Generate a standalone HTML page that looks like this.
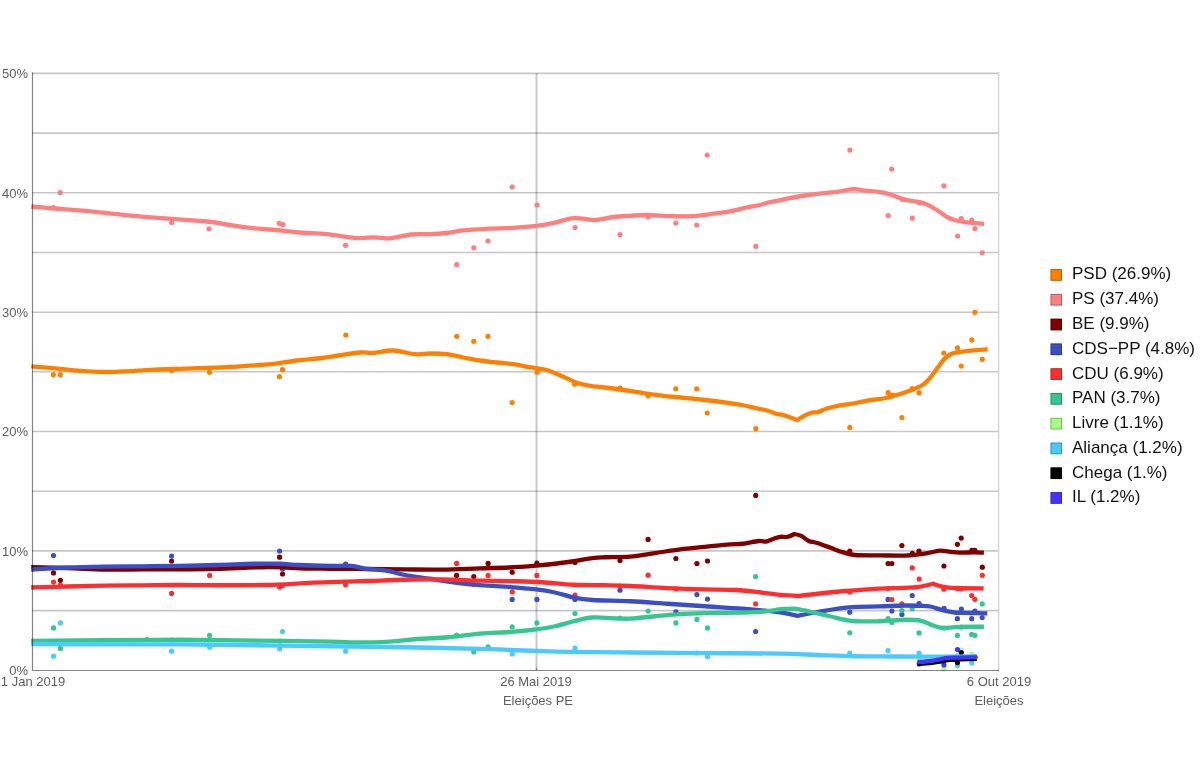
<!DOCTYPE html>
<html><head><meta charset="utf-8"><style>
html,body{margin:0;padding:0;background:#fff;}
body{width:1200px;height:775px;position:relative;overflow:hidden;font-family:"Liberation Sans",sans-serif;}
#w{position:absolute;left:0;top:0;width:1200px;height:775px;}
.t{position:absolute;left:0;top:0;width:1200px;height:775px;will-change:transform;}
svg{position:absolute;left:0;top:0;}
.yl{position:absolute;left:0;width:28px;text-align:right;font-size:13px;color:#5e5e5e;line-height:16px;}
.xl{position:absolute;font-size:13px;color:#5e5e5e;line-height:16px;white-space:nowrap;text-align:center;}
.lg{position:absolute;left:1050px;height:13px;white-space:nowrap;}
.sq{position:absolute;left:0;top:0;width:12px;height:12px;box-sizing:border-box;border:1px solid rgba(0,0,0,0.3);background-clip:padding-box;}
.lt{position:absolute;left:22px;top:-4.6px;font-size:17px;line-height:20px;color:#111;}
</style></head><body>
<div id="w">
<svg width="1200" height="775" viewBox="0 0 1200 775">
<line x1="32" x2="999.2" y1="610.6" y2="610.6" stroke="#000" stroke-opacity="0.225" stroke-width="1.6"/>
<line x1="32" x2="999.2" y1="550.9" y2="550.9" stroke="#000" stroke-opacity="0.225" stroke-width="1.6"/>
<line x1="32" x2="999.2" y1="491.2" y2="491.2" stroke="#000" stroke-opacity="0.225" stroke-width="1.6"/>
<line x1="32" x2="999.2" y1="431.5" y2="431.5" stroke="#000" stroke-opacity="0.225" stroke-width="1.6"/>
<line x1="32" x2="999.2" y1="371.8" y2="371.8" stroke="#000" stroke-opacity="0.225" stroke-width="1.6"/>
<line x1="32" x2="999.2" y1="312.2" y2="312.2" stroke="#000" stroke-opacity="0.225" stroke-width="1.6"/>
<line x1="32" x2="999.2" y1="252.5" y2="252.5" stroke="#000" stroke-opacity="0.225" stroke-width="1.6"/>
<line x1="32" x2="999.2" y1="192.8" y2="192.8" stroke="#000" stroke-opacity="0.225" stroke-width="1.6"/>
<line x1="32" x2="999.2" y1="133.1" y2="133.1" stroke="#000" stroke-opacity="0.225" stroke-width="1.6"/>
<line x1="32" x2="999.2" y1="73.4" y2="73.4" stroke="#000" stroke-opacity="0.225" stroke-width="1.6"/>
<line x1="998.6" x2="998.6" y1="72.6" y2="671" stroke="#d2d2d2" stroke-width="1.3"/>
<line x1="536.5" x2="536.5" y1="73" y2="671" stroke="#000" stroke-opacity="0.215" stroke-width="2"/>
<circle cx="53.3" cy="374.7" r="2.6" fill="#ff8000"/>
<circle cx="60.3" cy="374.7" r="2.6" fill="#ff8000"/>
<circle cx="171.7" cy="370.5" r="2.6" fill="#ff8000"/>
<circle cx="209.5" cy="372.2" r="2.6" fill="#ff8000"/>
<circle cx="282.5" cy="369.7" r="2.6" fill="#ff8000"/>
<circle cx="279.5" cy="376.7" r="2.6" fill="#ff8000"/>
<circle cx="345.8" cy="335.0" r="2.6" fill="#ff8000"/>
<circle cx="456.7" cy="336.3" r="2.6" fill="#ff8000"/>
<circle cx="473.8" cy="341.3" r="2.6" fill="#ff8000"/>
<circle cx="488.0" cy="336.3" r="2.6" fill="#ff8000"/>
<circle cx="512.2" cy="402.5" r="2.6" fill="#ff8000"/>
<circle cx="537.0" cy="372.2" r="2.6" fill="#ff8000"/>
<circle cx="574.7" cy="384.2" r="2.6" fill="#ff8000"/>
<circle cx="620.0" cy="388.0" r="2.6" fill="#ff8000"/>
<circle cx="648.0" cy="395.8" r="2.6" fill="#ff8000"/>
<circle cx="675.8" cy="388.8" r="2.6" fill="#ff8000"/>
<circle cx="696.7" cy="388.8" r="2.6" fill="#ff8000"/>
<circle cx="707.2" cy="413.0" r="2.6" fill="#ff8000"/>
<circle cx="755.8" cy="428.7" r="2.6" fill="#ff8000"/>
<circle cx="849.8" cy="427.4" r="2.6" fill="#ff8000"/>
<circle cx="888.1" cy="392.7" r="2.6" fill="#ff8000"/>
<circle cx="892.3" cy="395.2" r="2.6" fill="#ff8000"/>
<circle cx="901.9" cy="417.5" r="2.6" fill="#ff8000"/>
<circle cx="912.2" cy="388.6" r="2.6" fill="#ff8000"/>
<circle cx="919.0" cy="392.7" r="2.6" fill="#ff8000"/>
<circle cx="943.8" cy="353.0" r="2.6" fill="#ff8000"/>
<circle cx="957.5" cy="347.9" r="2.6" fill="#ff8000"/>
<circle cx="961.2" cy="366.0" r="2.6" fill="#ff8000"/>
<circle cx="971.8" cy="339.9" r="2.6" fill="#ff8000"/>
<circle cx="974.9" cy="312.3" r="2.6" fill="#ff8000"/>
<circle cx="982.3" cy="359.3" r="2.6" fill="#ff8000"/>
<circle cx="53.5" cy="207.5" r="2.6" fill="#ff7f7f"/>
<circle cx="60.2" cy="192.5" r="2.6" fill="#ff7f7f"/>
<circle cx="171.7" cy="222.5" r="2.6" fill="#ff7f7f"/>
<circle cx="209.0" cy="228.8" r="2.6" fill="#ff7f7f"/>
<circle cx="279.2" cy="223.3" r="2.6" fill="#ff7f7f"/>
<circle cx="283.0" cy="224.7" r="2.6" fill="#ff7f7f"/>
<circle cx="345.5" cy="245.3" r="2.6" fill="#ff7f7f"/>
<circle cx="456.7" cy="264.5" r="2.6" fill="#ff7f7f"/>
<circle cx="473.8" cy="247.8" r="2.6" fill="#ff7f7f"/>
<circle cx="488.0" cy="241.0" r="2.6" fill="#ff7f7f"/>
<circle cx="512.2" cy="187.0" r="2.6" fill="#ff7f7f"/>
<circle cx="537.0" cy="205.0" r="2.6" fill="#ff7f7f"/>
<circle cx="575.0" cy="227.5" r="2.6" fill="#ff7f7f"/>
<circle cx="620.0" cy="234.7" r="2.6" fill="#ff7f7f"/>
<circle cx="648.0" cy="217.0" r="2.6" fill="#ff7f7f"/>
<circle cx="675.8" cy="223.0" r="2.6" fill="#ff7f7f"/>
<circle cx="696.7" cy="225.0" r="2.6" fill="#ff7f7f"/>
<circle cx="707.2" cy="155.0" r="2.6" fill="#ff7f7f"/>
<circle cx="755.8" cy="246.3" r="2.6" fill="#ff7f7f"/>
<circle cx="849.9" cy="150.1" r="2.6" fill="#ff7f7f"/>
<circle cx="891.7" cy="169.1" r="2.6" fill="#ff7f7f"/>
<circle cx="943.9" cy="185.8" r="2.6" fill="#ff7f7f"/>
<circle cx="888.2" cy="215.6" r="2.6" fill="#ff7f7f"/>
<circle cx="912.3" cy="218.2" r="2.6" fill="#ff7f7f"/>
<circle cx="902.1" cy="199.3" r="2.6" fill="#ff7f7f"/>
<circle cx="919.1" cy="202.7" r="2.6" fill="#ff7f7f"/>
<circle cx="961.2" cy="218.5" r="2.6" fill="#ff7f7f"/>
<circle cx="971.8" cy="220.0" r="2.6" fill="#ff7f7f"/>
<circle cx="974.9" cy="228.6" r="2.6" fill="#ff7f7f"/>
<circle cx="957.6" cy="236.0" r="2.6" fill="#ff7f7f"/>
<circle cx="982.2" cy="252.8" r="2.6" fill="#ff7f7f"/>
<circle cx="53.5" cy="572.9" r="2.6" fill="#800000"/>
<circle cx="60.4" cy="580.3" r="2.6" fill="#800000"/>
<circle cx="171.6" cy="561.0" r="2.6" fill="#800000"/>
<circle cx="279.6" cy="557.2" r="2.6" fill="#800000"/>
<circle cx="282.5" cy="574.0" r="2.6" fill="#800000"/>
<circle cx="456.6" cy="575.4" r="2.6" fill="#800000"/>
<circle cx="473.8" cy="576.5" r="2.6" fill="#800000"/>
<circle cx="488.1" cy="563.4" r="2.6" fill="#800000"/>
<circle cx="512.2" cy="572.2" r="2.6" fill="#800000"/>
<circle cx="536.9" cy="563.1" r="2.6" fill="#800000"/>
<circle cx="575.0" cy="562.5" r="2.6" fill="#800000"/>
<circle cx="620.0" cy="560.6" r="2.6" fill="#800000"/>
<circle cx="648.1" cy="539.4" r="2.6" fill="#800000"/>
<circle cx="675.9" cy="558.5" r="2.6" fill="#800000"/>
<circle cx="696.9" cy="563.5" r="2.6" fill="#800000"/>
<circle cx="707.5" cy="561.0" r="2.6" fill="#800000"/>
<circle cx="755.7" cy="495.4" r="2.6" fill="#800000"/>
<circle cx="849.8" cy="551.0" r="2.6" fill="#800000"/>
<circle cx="901.9" cy="545.5" r="2.6" fill="#800000"/>
<circle cx="912.3" cy="553.3" r="2.6" fill="#800000"/>
<circle cx="919.0" cy="551.0" r="2.6" fill="#800000"/>
<circle cx="888.1" cy="563.5" r="2.6" fill="#800000"/>
<circle cx="891.9" cy="563.5" r="2.6" fill="#800000"/>
<circle cx="943.9" cy="566.0" r="2.6" fill="#800000"/>
<circle cx="957.4" cy="544.3" r="2.6" fill="#800000"/>
<circle cx="961.2" cy="538.1" r="2.6" fill="#800000"/>
<circle cx="971.9" cy="550.3" r="2.6" fill="#800000"/>
<circle cx="974.9" cy="550.3" r="2.6" fill="#800000"/>
<circle cx="982.3" cy="567.2" r="2.6" fill="#800000"/>
<circle cx="53.5" cy="555.6" r="2.6" fill="#3a4fc4"/>
<circle cx="171.6" cy="556.0" r="2.6" fill="#3a4fc4"/>
<circle cx="279.6" cy="551.0" r="2.6" fill="#3a4fc4"/>
<circle cx="282.5" cy="569.1" r="2.6" fill="#3a4fc4"/>
<circle cx="345.6" cy="564.1" r="2.6" fill="#3a4fc4"/>
<circle cx="512.2" cy="599.4" r="2.6" fill="#3a4fc4"/>
<circle cx="536.9" cy="599.4" r="2.6" fill="#3a4fc4"/>
<circle cx="575.0" cy="599.4" r="2.6" fill="#3a4fc4"/>
<circle cx="620.0" cy="590.2" r="2.6" fill="#3a4fc4"/>
<circle cx="696.9" cy="594.6" r="2.6" fill="#3a4fc4"/>
<circle cx="707.5" cy="599.1" r="2.6" fill="#3a4fc4"/>
<circle cx="675.9" cy="611.9" r="2.6" fill="#3a4fc4"/>
<circle cx="755.6" cy="631.5" r="2.6" fill="#3a4fc4"/>
<circle cx="849.8" cy="612.2" r="2.6" fill="#3a4fc4"/>
<circle cx="888.1" cy="599.4" r="2.6" fill="#3a4fc4"/>
<circle cx="891.9" cy="611.0" r="2.6" fill="#3a4fc4"/>
<circle cx="901.9" cy="614.4" r="2.6" fill="#3a4fc4"/>
<circle cx="912.2" cy="595.6" r="2.6" fill="#3a4fc4"/>
<circle cx="919.1" cy="603.6" r="2.6" fill="#3a4fc4"/>
<circle cx="944.1" cy="608.4" r="2.6" fill="#3a4fc4"/>
<circle cx="961.4" cy="609.1" r="2.6" fill="#3a4fc4"/>
<circle cx="974.9" cy="611.0" r="2.6" fill="#3a4fc4"/>
<circle cx="957.4" cy="618.7" r="2.6" fill="#3a4fc4"/>
<circle cx="971.7" cy="618.7" r="2.6" fill="#3a4fc4"/>
<circle cx="982.2" cy="617.6" r="2.6" fill="#3a4fc4"/>
<circle cx="53.5" cy="582.1" r="2.6" fill="#ff2e2e"/>
<circle cx="60.4" cy="585.0" r="2.6" fill="#ff2e2e"/>
<circle cx="171.6" cy="593.4" r="2.6" fill="#ff2e2e"/>
<circle cx="209.6" cy="575.4" r="2.6" fill="#ff2e2e"/>
<circle cx="279.6" cy="586.9" r="2.6" fill="#ff2e2e"/>
<circle cx="282.5" cy="585.5" r="2.6" fill="#ff2e2e"/>
<circle cx="345.6" cy="584.8" r="2.6" fill="#ff2e2e"/>
<circle cx="456.6" cy="563.4" r="2.6" fill="#ff2e2e"/>
<circle cx="473.8" cy="584.5" r="2.6" fill="#ff2e2e"/>
<circle cx="488.1" cy="575.4" r="2.6" fill="#ff2e2e"/>
<circle cx="512.2" cy="591.9" r="2.6" fill="#ff2e2e"/>
<circle cx="536.9" cy="575.4" r="2.6" fill="#ff2e2e"/>
<circle cx="575.0" cy="595.0" r="2.6" fill="#ff2e2e"/>
<circle cx="620.0" cy="586.0" r="2.6" fill="#ff2e2e"/>
<circle cx="648.1" cy="575.2" r="2.6" fill="#ff2e2e"/>
<circle cx="675.9" cy="589.0" r="2.6" fill="#ff2e2e"/>
<circle cx="755.6" cy="603.8" r="2.6" fill="#ff2e2e"/>
<circle cx="849.8" cy="591.9" r="2.6" fill="#ff2e2e"/>
<circle cx="888.1" cy="588.5" r="2.6" fill="#ff2e2e"/>
<circle cx="891.9" cy="599.6" r="2.6" fill="#ff2e2e"/>
<circle cx="901.9" cy="603.8" r="2.6" fill="#ff2e2e"/>
<circle cx="912.2" cy="567.9" r="2.6" fill="#ff2e2e"/>
<circle cx="919.1" cy="579.1" r="2.6" fill="#ff2e2e"/>
<circle cx="943.9" cy="589.2" r="2.6" fill="#ff2e2e"/>
<circle cx="957.4" cy="588.5" r="2.6" fill="#ff2e2e"/>
<circle cx="961.2" cy="589.0" r="2.6" fill="#ff2e2e"/>
<circle cx="971.7" cy="595.6" r="2.6" fill="#ff2e2e"/>
<circle cx="974.9" cy="599.3" r="2.6" fill="#ff2e2e"/>
<circle cx="982.3" cy="575.3" r="2.6" fill="#ff2e2e"/>
<circle cx="53.5" cy="627.9" r="2.6" fill="#36c690"/>
<circle cx="60.4" cy="648.4" r="2.6" fill="#36c690"/>
<circle cx="146.9" cy="639.5" r="2.6" fill="#36c690"/>
<circle cx="171.6" cy="640.0" r="2.6" fill="#36c690"/>
<circle cx="209.6" cy="635.4" r="2.6" fill="#36c690"/>
<circle cx="280.0" cy="641.0" r="2.6" fill="#36c690"/>
<circle cx="456.6" cy="635.0" r="2.6" fill="#36c690"/>
<circle cx="473.8" cy="651.9" r="2.6" fill="#36c690"/>
<circle cx="488.1" cy="646.9" r="2.6" fill="#36c690"/>
<circle cx="512.2" cy="626.9" r="2.6" fill="#36c690"/>
<circle cx="536.9" cy="622.9" r="2.6" fill="#36c690"/>
<circle cx="575.0" cy="613.5" r="2.6" fill="#36c690"/>
<circle cx="620.0" cy="618.0" r="2.6" fill="#36c690"/>
<circle cx="648.1" cy="611.0" r="2.6" fill="#36c690"/>
<circle cx="675.9" cy="622.9" r="2.6" fill="#36c690"/>
<circle cx="696.9" cy="619.4" r="2.6" fill="#36c690"/>
<circle cx="707.5" cy="627.9" r="2.6" fill="#36c690"/>
<circle cx="755.6" cy="576.5" r="2.6" fill="#36c690"/>
<circle cx="849.8" cy="632.8" r="2.6" fill="#36c690"/>
<circle cx="888.1" cy="618.5" r="2.6" fill="#36c690"/>
<circle cx="891.9" cy="622.5" r="2.6" fill="#36c690"/>
<circle cx="901.9" cy="610.6" r="2.6" fill="#36c690"/>
<circle cx="912.2" cy="608.8" r="2.6" fill="#36c690"/>
<circle cx="919.1" cy="632.9" r="2.6" fill="#36c690"/>
<circle cx="944.1" cy="628.0" r="2.6" fill="#36c690"/>
<circle cx="957.4" cy="635.4" r="2.6" fill="#36c690"/>
<circle cx="961.4" cy="627.0" r="2.6" fill="#36c690"/>
<circle cx="971.7" cy="634.4" r="2.6" fill="#36c690"/>
<circle cx="974.9" cy="635.4" r="2.6" fill="#36c690"/>
<circle cx="982.2" cy="603.9" r="2.6" fill="#36c690"/>
<circle cx="943.9" cy="668.9" r="2.6" fill="#a6ff80"/>
<circle cx="961.3" cy="650.0" r="2.6" fill="#a6ff80"/>
<circle cx="971.8" cy="654.2" r="2.6" fill="#a6ff80"/>
<circle cx="919.2" cy="659.0" r="2.6" fill="#a6ff80"/>
<circle cx="957.5" cy="655.0" r="2.6" fill="#a6ff80"/>
<circle cx="53.5" cy="656.2" r="2.6" fill="#4bcaff"/>
<circle cx="60.4" cy="622.9" r="2.6" fill="#4bcaff"/>
<circle cx="171.6" cy="651.2" r="2.6" fill="#4bcaff"/>
<circle cx="209.6" cy="647.2" r="2.6" fill="#4bcaff"/>
<circle cx="282.5" cy="631.5" r="2.6" fill="#4bcaff"/>
<circle cx="279.6" cy="648.8" r="2.6" fill="#4bcaff"/>
<circle cx="345.6" cy="651.2" r="2.6" fill="#4bcaff"/>
<circle cx="512.2" cy="654.0" r="2.6" fill="#4bcaff"/>
<circle cx="575.0" cy="648.1" r="2.6" fill="#4bcaff"/>
<circle cx="696.9" cy="653.0" r="2.6" fill="#4bcaff"/>
<circle cx="707.5" cy="656.5" r="2.6" fill="#4bcaff"/>
<circle cx="849.8" cy="653.1" r="2.6" fill="#4bcaff"/>
<circle cx="888.1" cy="650.6" r="2.6" fill="#4bcaff"/>
<circle cx="919.1" cy="653.2" r="2.6" fill="#4bcaff"/>
<circle cx="957.5" cy="665.6" r="2.6" fill="#4bcaff"/>
<circle cx="971.8" cy="662.9" r="2.6" fill="#4bcaff"/>
<circle cx="957.5" cy="662.6" r="2.6" fill="#000000"/>
<circle cx="961.3" cy="652.5" r="2.6" fill="#000000"/>
<circle cx="975.0" cy="657.0" r="2.6" fill="#000000"/>
<circle cx="957.5" cy="649.5" r="2.6" fill="#4433ff"/>
<circle cx="943.9" cy="664.9" r="2.6" fill="#4433ff"/>
<circle cx="919.2" cy="664.1" r="2.6" fill="#4433ff"/>
<circle cx="974.0" cy="657.0" r="2.6" fill="#4433ff"/>
<path d="M31.20,366.30 C35.17,366.63 46.87,367.55 55.00,368.30 C63.13,369.05 71.67,370.18 80.00,370.80 C88.33,371.42 96.67,371.93 105.00,372.00 C113.33,372.07 121.67,371.58 130.00,371.20 C138.33,370.82 146.67,370.10 155.00,369.70 C163.33,369.30 171.67,369.08 180.00,368.80 C188.33,368.52 196.67,368.30 205.00,368.00 C213.33,367.70 223.05,367.37 230.00,367.00 C236.95,366.63 239.75,366.27 246.70,365.80 C253.65,365.33 263.37,365.08 271.70,364.20 C280.03,363.32 288.37,361.53 296.70,360.50 C305.03,359.47 314.77,358.83 321.70,358.00 C328.63,357.17 331.92,356.42 338.30,355.50 C344.68,354.58 354.17,352.95 360.00,352.50 C365.83,352.05 367.75,353.13 373.30,352.80 C378.85,352.47 386.35,350.27 393.30,350.50 C400.25,350.73 408.88,353.70 415.00,354.20 C421.12,354.70 424.72,353.50 430.00,353.50 C435.28,353.50 441.15,353.53 446.70,354.20 C452.25,354.87 457.75,356.45 463.30,357.50 C468.85,358.55 474.43,359.67 480.00,360.50 C485.57,361.33 491.15,361.88 496.70,362.50 C502.25,363.12 507.75,363.42 513.30,364.20 C518.85,364.98 524.43,366.23 530.00,367.20 C535.57,368.17 541.15,368.42 546.70,370.00 C552.25,371.58 558.30,374.57 563.30,376.70 C568.30,378.83 572.25,381.28 576.70,382.80 C581.15,384.32 585.28,385.02 590.00,385.80 C594.72,386.58 598.33,386.67 605.00,387.50 C611.67,388.33 623.05,389.77 630.00,390.80 C636.95,391.83 641.15,392.87 646.70,393.70 C652.25,394.53 657.75,395.17 663.30,395.80 C668.85,396.43 673.05,396.80 680.00,397.50 C686.95,398.20 698.05,399.25 705.00,400.00 C711.95,400.75 715.58,401.17 721.70,402.00 C727.82,402.83 736.15,404.00 741.70,405.00 C747.25,406.00 751.95,407.33 755.00,408.00 C758.05,408.67 757.72,408.50 760.00,409.00 C762.28,409.50 765.92,410.17 768.70,411.00 C771.48,411.83 774.27,413.33 776.70,414.00 C779.13,414.67 779.87,414.00 783.30,415.00 C786.73,416.00 797.30,420.00 797.30,420.00 C797.30,420.00 801.55,417.25 804.00,416.00 C806.45,414.75 809.67,413.13 812.00,412.50 C814.33,411.87 815.67,412.83 818.00,412.20 C820.33,411.57 822.33,409.85 826.00,408.70 C829.67,407.55 834.98,406.25 840.00,405.30 C845.02,404.35 851.30,403.83 856.10,403.00 C860.90,402.17 864.27,401.05 868.80,400.30 C873.33,399.55 878.78,399.35 883.30,398.50 C887.82,397.65 891.38,396.55 895.90,395.20 C900.42,393.85 906.03,392.05 910.40,390.40 C914.77,388.75 918.80,387.42 922.10,385.30 C925.40,383.18 927.63,380.62 930.20,377.70 C932.77,374.78 935.12,370.95 937.50,367.80 C939.88,364.65 942.32,361.05 944.50,358.80 C946.68,356.55 948.38,355.38 950.60,354.30 C952.82,353.22 955.23,352.82 957.80,352.30 C960.37,351.78 962.77,351.57 966.00,351.20 C969.23,350.83 973.58,350.42 977.20,350.10 C980.82,349.78 985.95,349.43 987.70,349.30" fill="none" stroke="#ff8000" stroke-width="4.3" stroke-linejoin="miter" stroke-miterlimit="3" stroke-linecap="butt"/>
<path d="M31.20,206.50 C35.17,206.83 46.53,207.82 55.00,208.50 C63.47,209.18 67.07,209.20 82.00,210.60 C96.93,212.00 123.77,215.08 144.60,216.90 C165.43,218.72 192.77,220.15 207.00,221.50 C221.23,222.85 222.00,223.87 230.00,225.00 C238.00,226.13 246.67,227.42 255.00,228.30 C263.33,229.18 272.50,229.60 280.00,230.30 C287.50,231.00 292.22,231.85 300.00,232.50 C307.78,233.15 317.25,233.28 326.70,234.20 C336.15,235.12 348.65,237.48 356.70,238.00 C364.75,238.52 369.45,237.25 375.00,237.30 C380.55,237.35 383.88,238.77 390.00,238.30 C396.12,237.83 405.03,235.18 411.70,234.50 C418.37,233.82 424.17,234.45 430.00,234.20 C435.83,233.95 441.15,233.65 446.70,233.00 C452.25,232.35 456.37,231.02 463.30,230.30 C470.23,229.58 479.97,229.12 488.30,228.70 C496.63,228.28 505.23,228.28 513.30,227.80 C521.37,227.32 530.03,226.60 536.70,225.80 C543.37,225.00 547.47,224.25 553.30,223.00 C559.13,221.75 566.70,219.02 571.70,218.30 C576.70,217.58 579.13,218.42 583.30,218.70 C587.47,218.98 591.70,220.28 596.70,220.00 C601.70,219.72 607.75,217.70 613.30,217.00 C618.85,216.30 624.43,216.13 630.00,215.80 C635.57,215.47 639.75,214.93 646.70,215.00 C653.65,215.07 664.20,216.00 671.70,216.20 C679.20,216.40 684.77,216.62 691.70,216.20 C698.63,215.78 706.92,214.52 713.30,213.70 C719.68,212.88 724.43,212.33 730.00,211.30 C735.57,210.27 741.70,208.55 746.70,207.50 C751.70,206.45 756.67,205.75 760.00,205.00 C763.33,204.25 763.37,203.78 766.70,203.00 C770.03,202.22 776.40,201.08 780.00,200.30 C783.60,199.52 784.13,199.10 788.30,198.30 C792.47,197.50 799.43,196.33 805.00,195.50 C810.57,194.67 816.10,193.95 821.70,193.30 C827.30,192.65 833.72,192.27 838.60,191.60 C843.48,190.93 847.90,189.68 851.00,189.30 C854.10,188.92 854.88,189.07 857.20,189.30 C859.52,189.53 861.28,190.27 864.90,190.70 C868.52,191.13 874.77,191.32 878.90,191.90 C883.03,192.48 885.83,193.03 889.70,194.20 C893.57,195.37 898.75,197.82 902.10,198.90 C905.45,199.98 906.70,200.12 909.80,200.70 C912.90,201.28 917.60,201.67 920.70,202.40 C923.80,203.13 925.57,203.75 928.40,205.10 C931.23,206.45 934.60,208.52 937.70,210.50 C940.80,212.48 943.90,215.33 947.00,217.00 C950.10,218.67 952.95,219.60 956.30,220.50 C959.65,221.40 962.47,221.85 967.10,222.40 C971.73,222.95 981.27,223.57 984.10,223.80" fill="none" stroke="#ff7f7f" stroke-width="4.3" stroke-linejoin="miter" stroke-miterlimit="3" stroke-linecap="butt"/>
<path d="M31.20,567.20 C37.25,567.35 55.20,567.70 67.50,568.10 C79.80,568.50 92.50,569.38 105.00,569.60 C117.50,569.82 130.00,569.45 142.50,569.40 C155.00,569.35 167.50,569.41 180.00,569.30 C192.50,569.19 203.96,569.09 217.50,568.75 C231.04,568.41 249.79,567.46 261.25,567.25 C272.71,567.04 278.96,567.29 286.25,567.50 C293.54,567.71 297.71,568.29 305.00,568.50 C312.29,568.71 319.58,568.67 330.00,568.75 C340.42,568.83 355.00,568.89 367.50,569.00 C380.00,569.11 392.50,569.30 405.00,569.40 C417.50,569.50 430.00,569.78 442.50,569.60 C455.00,569.42 468.96,568.65 480.00,568.30 C491.04,567.95 499.38,567.95 508.75,567.50 C518.12,567.05 528.54,566.23 536.25,565.60 C543.96,564.98 548.75,564.48 555.00,563.75 C561.25,563.02 567.50,562.19 573.75,561.25 C580.00,560.31 587.29,558.77 592.50,558.10 C597.71,557.43 598.75,557.48 605.00,557.25 C611.25,557.02 621.67,557.39 630.00,556.70 C638.33,556.01 646.67,554.32 655.00,553.10 C663.33,551.88 671.67,550.43 680.00,549.40 C688.33,548.37 696.67,547.73 705.00,546.90 C713.33,546.07 723.75,544.92 730.00,544.40 C736.25,543.88 737.71,544.32 742.50,543.75 C747.29,543.18 754.79,541.38 758.75,541.00 C762.71,540.62 763.75,541.88 766.25,541.50 C768.75,541.12 771.46,539.53 773.75,538.75 C776.04,537.97 777.71,537.11 780.00,536.80 C782.29,536.49 785.10,537.37 787.50,536.90 C789.90,536.43 794.40,534.00 794.40,534.00 C794.40,534.00 798.86,534.73 801.25,535.90 C803.64,537.07 806.25,539.86 808.75,541.00 C811.25,542.14 812.71,541.67 816.25,542.75 C819.79,543.83 825.62,545.94 830.00,547.50 C834.38,549.06 838.33,550.85 842.50,552.10 C846.67,553.35 848.75,554.45 855.00,555.00 C861.25,555.55 871.67,555.30 880.00,555.40 C888.33,555.50 898.50,555.77 905.00,555.60 C911.50,555.43 915.15,554.83 919.00,554.40 C922.85,553.97 924.63,553.63 928.10,553.00 C931.57,552.37 936.35,550.82 939.80,550.60 C943.25,550.38 945.48,551.37 948.80,551.70 C952.12,552.03 955.63,552.48 959.70,552.60 C963.77,552.72 969.17,552.40 973.20,552.40 C977.23,552.40 982.12,552.57 983.90,552.60" fill="none" stroke="#800000" stroke-width="4.3" stroke-linejoin="miter" stroke-miterlimit="3" stroke-linecap="butt"/>
<path d="M31.20,569.60 C37.25,569.25 55.20,568.00 67.50,567.50 C79.80,567.00 92.50,566.80 105.00,566.60 C117.50,566.40 130.00,566.42 142.50,566.30 C155.00,566.18 167.50,566.12 180.00,565.90 C192.50,565.68 205.00,565.36 217.50,565.00 C230.00,564.64 244.58,563.96 255.00,563.75 C265.42,563.54 272.71,563.54 280.00,563.75 C287.29,563.96 290.42,564.64 298.75,565.00 C307.08,565.36 321.25,565.75 330.00,565.90 C338.75,566.05 345.00,565.38 351.25,565.90 C357.50,566.42 361.67,568.22 367.50,569.00 C373.33,569.78 380.00,569.60 386.25,570.60 C392.50,571.60 397.71,573.64 405.00,575.00 C412.29,576.36 421.67,577.50 430.00,578.75 C438.33,580.00 446.67,581.44 455.00,582.50 C463.33,583.56 471.67,584.42 480.00,585.10 C488.33,585.78 495.62,585.88 505.00,586.60 C514.38,587.32 527.92,588.42 536.25,589.40 C544.58,590.38 548.75,591.15 555.00,592.50 C561.25,593.85 567.50,596.25 573.75,597.50 C580.00,598.75 583.12,599.38 592.50,600.00 C601.88,600.62 617.50,600.62 630.00,601.25 C642.50,601.88 655.00,602.92 667.50,603.75 C680.00,604.58 692.50,605.42 705.00,606.25 C717.50,607.08 730.00,607.73 742.50,608.75 C755.00,609.77 770.83,611.23 780.00,612.40 C789.17,613.57 797.50,615.80 797.50,615.80 C797.50,615.80 808.96,613.40 817.50,612.00 C826.04,610.60 838.33,608.33 848.75,607.40 C859.17,606.47 870.62,606.72 880.00,606.40 C889.38,606.08 898.38,605.58 905.00,605.50 C911.62,605.42 915.54,605.73 919.75,605.90 C923.96,606.07 926.50,605.80 930.25,606.50 C934.00,607.20 938.12,609.10 942.25,610.10 C946.38,611.10 950.38,612.02 955.00,612.50 C959.62,612.98 964.62,612.85 970.00,613.00 C975.38,613.15 984.42,613.33 987.30,613.40" fill="none" stroke="#3a4fc4" stroke-width="4.3" stroke-linejoin="miter" stroke-miterlimit="3" stroke-linecap="butt"/>
<path d="M31.20,587.50 C37.25,587.33 55.20,586.82 67.50,586.50 C79.80,586.18 92.50,585.80 105.00,585.60 C117.50,585.40 130.00,585.40 142.50,585.30 C155.00,585.20 167.50,585.01 180.00,585.00 C192.50,584.99 202.92,585.25 217.50,585.25 C232.08,585.25 252.92,585.36 267.50,585.00 C282.08,584.64 294.58,583.57 305.00,583.10 C315.42,582.63 319.58,582.55 330.00,582.20 C340.42,581.85 355.00,581.41 367.50,581.00 C380.00,580.59 392.50,580.02 405.00,579.75 C417.50,579.48 430.00,579.26 442.50,579.40 C455.00,579.54 467.50,580.29 480.00,580.60 C492.50,580.91 507.08,580.98 517.50,581.25 C527.92,581.52 533.12,581.67 542.50,582.25 C551.88,582.83 563.33,584.25 573.75,584.75 C584.17,585.25 595.62,585.04 605.00,585.25 C614.38,585.46 619.58,585.52 630.00,586.00 C640.42,586.48 655.00,587.53 667.50,588.10 C680.00,588.67 693.54,589.08 705.00,589.40 C716.46,589.72 726.88,589.48 736.25,590.00 C745.62,590.52 753.96,591.68 761.25,592.50 C768.54,593.32 773.75,594.32 780.00,594.90 C786.25,595.48 798.75,596.00 798.75,596.00 C798.75,596.00 810.21,594.54 817.50,593.75 C824.79,592.96 834.17,591.98 842.50,591.25 C850.83,590.52 859.17,589.92 867.50,589.40 C875.83,588.88 885.42,588.40 892.50,588.10 C899.58,587.80 905.58,587.80 910.00,587.60 C914.42,587.40 915.17,587.54 919.00,586.90 C922.83,586.26 933.00,583.75 933.00,583.75 C933.00,583.75 939.70,586.19 943.40,586.90 C947.10,587.61 948.50,587.73 955.20,588.00 C961.90,588.27 978.87,588.42 983.60,588.50" fill="none" stroke="#ff2e2e" stroke-width="4.3" stroke-linejoin="miter" stroke-miterlimit="3" stroke-linecap="butt"/>
<path d="M31.20,641.00 C43.50,640.88 80.20,640.46 105.00,640.25 C129.80,640.04 155.00,639.69 180.00,639.75 C205.00,639.81 230.00,640.27 255.00,640.60 C280.00,640.93 313.33,641.38 330.00,641.70 C346.67,642.02 345.00,642.52 355.00,642.50 C365.00,642.48 379.58,642.18 390.00,641.60 C400.42,641.02 407.71,639.73 417.50,639.00 C427.29,638.27 438.33,638.15 448.75,637.25 C459.17,636.35 469.58,634.49 480.00,633.60 C490.42,632.71 501.88,632.60 511.25,631.90 C520.62,631.20 528.96,630.34 536.25,629.40 C543.54,628.46 548.75,627.61 555.00,626.25 C561.25,624.89 567.50,622.71 573.75,621.25 C580.00,619.79 585.21,617.96 592.50,617.50 C599.79,617.04 611.25,618.32 617.50,618.50 C623.75,618.68 623.75,618.98 630.00,618.60 C636.25,618.23 646.67,617.00 655.00,616.25 C663.33,615.50 671.67,614.62 680.00,614.10 C688.33,613.58 694.58,613.37 705.00,613.10 C715.42,612.83 732.37,612.78 742.50,612.50 C752.63,612.22 759.33,611.95 765.80,611.40 C772.27,610.85 776.57,609.65 781.30,609.20 C786.03,608.75 794.20,608.70 794.20,608.70 C794.20,608.70 801.66,609.85 804.50,610.40 C807.34,610.95 807.00,611.02 811.25,612.00 C815.50,612.98 823.12,614.75 830.00,616.25 C836.88,617.75 844.17,620.17 852.50,621.00 C860.83,621.83 871.25,621.46 880.00,621.25 C888.75,621.04 898.12,619.83 905.00,619.75 C911.88,619.67 916.67,619.88 921.25,620.80 C925.83,621.72 929.00,624.07 932.50,625.25 C936.00,626.43 938.50,627.59 942.25,627.90 C946.00,628.21 950.38,627.29 955.00,627.10 C959.62,626.91 965.18,626.81 970.00,626.75 C974.82,626.69 981.58,626.75 983.90,626.75" fill="none" stroke="#36c690" stroke-width="4.3" stroke-linejoin="miter" stroke-miterlimit="3" stroke-linecap="butt"/>
<path d="M31.20,644.00 C43.50,644.07 80.20,644.33 105.00,644.40 C129.80,644.47 155.00,644.26 180.00,644.40 C205.00,644.54 230.00,644.94 255.00,645.25 C280.00,645.56 305.00,645.92 330.00,646.25 C355.00,646.58 380.00,646.81 405.00,647.25 C430.00,647.69 462.29,648.44 480.00,648.90 C497.71,649.36 501.88,649.65 511.25,650.00 C520.62,650.35 526.88,650.68 536.25,651.00 C545.62,651.32 551.88,651.65 567.50,651.90 C583.12,652.15 607.08,652.30 630.00,652.50 C652.92,652.70 680.00,652.92 705.00,653.10 C730.00,653.28 761.25,653.28 780.00,653.60 C798.75,653.92 805.00,654.56 817.50,655.00 C830.00,655.44 842.50,656.00 855.00,656.25 C867.50,656.50 879.17,656.44 892.50,656.50 C905.83,656.56 920.92,656.60 935.00,656.60 C949.08,656.60 970.00,656.52 977.00,656.50" fill="none" stroke="#4bcaff" stroke-width="4.3" stroke-linejoin="miter" stroke-miterlimit="3" stroke-linecap="butt"/>
<path d="M917.50,663.60 C919.58,663.50 926.25,663.33 930.00,663.00 C933.75,662.67 936.67,662.12 940.00,661.60 C943.33,661.08 946.67,660.27 950.00,659.90 C953.33,659.53 955.50,659.58 960.00,659.40 C964.50,659.22 974.17,658.90 977.00,658.80" fill="none" stroke="#000000" stroke-width="4.3" stroke-linejoin="miter" stroke-miterlimit="3" stroke-linecap="butt"/>
<path d="M917.50,661.90 C918.75,661.83 922.58,661.68 925.00,661.50 C927.42,661.32 929.50,661.17 932.00,660.80 C934.50,660.43 937.50,659.78 940.00,659.30 C942.50,658.82 944.08,658.18 947.00,657.90 C949.92,657.62 952.50,657.70 957.50,657.60 C962.50,657.50 973.75,657.35 977.00,657.30" fill="none" stroke="#4433ff" stroke-width="4.3" stroke-linejoin="miter" stroke-miterlimit="3" stroke-linecap="butt"/>
<path d="M32.5,72.6 L32.5,670.5 L999.2,670.5" fill="none" stroke="#000" stroke-opacity="0.48" stroke-width="1.2"/>
<line x1="536.5" x2="536.5" y1="667.5" y2="671" stroke="#858585" stroke-width="1.2"/>
<rect x="1050.5" y="269.10" width="11.5" height="11.7" fill="#ff8000"/>
<rect x="1051" y="269.60" width="10.5" height="10.7" fill="none" stroke="#000" stroke-opacity="0.28" stroke-width="1"/>
<rect x="1050.5" y="293.88" width="11.5" height="11.7" fill="#ff7f7f"/>
<rect x="1051" y="294.38" width="10.5" height="10.7" fill="none" stroke="#000" stroke-opacity="0.28" stroke-width="1"/>
<rect x="1050.5" y="318.66" width="11.5" height="11.7" fill="#800000"/>
<rect x="1051" y="319.16" width="10.5" height="10.7" fill="none" stroke="#000" stroke-opacity="0.28" stroke-width="1"/>
<rect x="1050.5" y="343.44" width="11.5" height="11.7" fill="#3a4fc4"/>
<rect x="1051" y="343.94" width="10.5" height="10.7" fill="none" stroke="#000" stroke-opacity="0.28" stroke-width="1"/>
<rect x="1050.5" y="368.22" width="11.5" height="11.7" fill="#ff2e2e"/>
<rect x="1051" y="368.72" width="10.5" height="10.7" fill="none" stroke="#000" stroke-opacity="0.28" stroke-width="1"/>
<rect x="1050.5" y="393.00" width="11.5" height="11.7" fill="#36c690"/>
<rect x="1051" y="393.50" width="10.5" height="10.7" fill="none" stroke="#000" stroke-opacity="0.28" stroke-width="1"/>
<rect x="1050.5" y="417.78" width="11.5" height="11.7" fill="#a6ff80"/>
<rect x="1051" y="418.28" width="10.5" height="10.7" fill="none" stroke="#000" stroke-opacity="0.28" stroke-width="1"/>
<rect x="1050.5" y="442.56" width="11.5" height="11.7" fill="#4bcaff"/>
<rect x="1051" y="443.06" width="10.5" height="10.7" fill="none" stroke="#000" stroke-opacity="0.28" stroke-width="1"/>
<rect x="1050.5" y="467.34" width="11.5" height="11.7" fill="#000000"/>
<rect x="1051" y="467.84" width="10.5" height="10.7" fill="none" stroke="#000" stroke-opacity="0.28" stroke-width="1"/>
<rect x="1050.5" y="492.12" width="11.5" height="11.7" fill="#4433ff"/>
<rect x="1051" y="492.62" width="10.5" height="10.7" fill="none" stroke="#000" stroke-opacity="0.28" stroke-width="1"/>
</svg>
<div class="t"><div class="yl" style="top:663.1px">0%</div><div class="yl" style="top:543.7px">10%</div><div class="yl" style="top:424.3px">20%</div><div class="yl" style="top:305.0px">30%</div><div class="yl" style="top:185.6px">40%</div><div class="yl" style="top:66.2px">50%</div>
<div class="xl" style="left:-12px;top:673.9px;width:90px">1 Jan 2019</div>
<div class="xl" style="left:486px;top:674.2px;width:100px">26 Mai 2019</div>
<div class="xl" style="left:488px;top:693px;width:100px">Elei&ccedil;&otilde;es PE</div>
<div class="xl" style="left:949px;top:674.2px;width:100px">6 Out 2019</div>
<div class="xl" style="left:949px;top:693px;width:100px">Elei&ccedil;&otilde;es</div>
<div class="lg" style="top:269.0px"><span class="lt">PSD (26.9%)</span></div><div class="lg" style="top:293.8px"><span class="lt">PS (37.4%)</span></div><div class="lg" style="top:318.6px"><span class="lt">BE (9.9%)</span></div><div class="lg" style="top:343.3px"><span class="lt">CDS&#8722;PP (4.8%)</span></div><div class="lg" style="top:368.1px"><span class="lt">CDU (6.9%)</span></div><div class="lg" style="top:392.9px"><span class="lt">PAN (3.7%)</span></div><div class="lg" style="top:417.7px"><span class="lt">Livre (1.1%)</span></div><div class="lg" style="top:442.5px"><span class="lt">Alian&ccedil;a (1.2%)</span></div><div class="lg" style="top:467.2px"><span class="lt">Chega (1.%)</span></div><div class="lg" style="top:492.0px"><span class="lt">IL (1.2%)</span></div>
</div>
</div>
</body></html>
